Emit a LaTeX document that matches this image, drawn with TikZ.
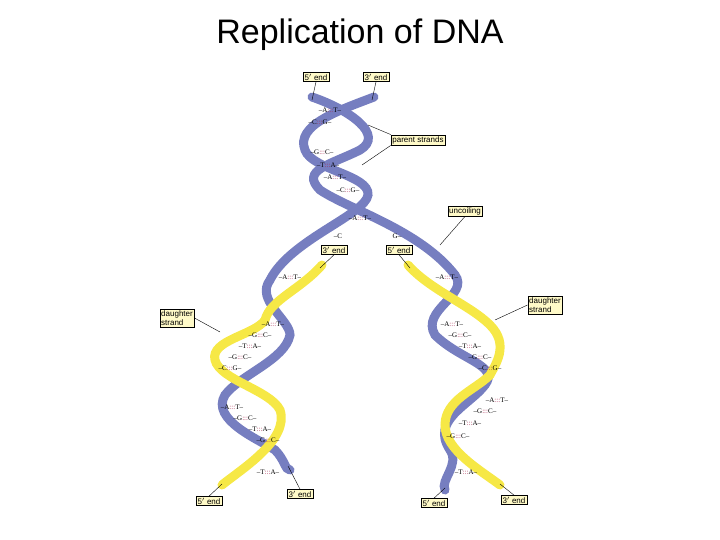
\documentclass[tikz,border=0pt]{standalone}
\usepackage{fontspec}
\setmainfont{Liberation Serif}
\setsansfont{Liberation Sans}
\usetikzlibrary{positioning}
\definecolor{parentblue}{RGB}{118,126,192}
\definecolor{daughteryel}{RGB}{246,232,70}
\definecolor{tagfill}{RGB}{255,250,200}
\definecolor{pairdots}{RGB}{170,40,80}
\newcommand{\bpair}[2]{--#1{\color{pairdots}:::}#2--}
\begin{document}
\begin{tikzpicture}[x=1pt, y=-1pt, every node/.style={scale=1.0}]

	\tikzset{
	tag/.style={draw, fill=tagfill, font=\sffamily\footnotesize, inner sep=1.5pt, align=left},
	parent/.style={draw=parentblue, line width=9pt, line cap=round},
	daughter/.style={draw=daughteryel, line width=9pt, line cap=round},
	bp/.style={font=\scriptsize, inner sep=0pt},
	call/.style={draw, thin}
	}

	\useasboundingbox (0,0) rectangle (720,540);

	% Title
	\node[font=\sffamily\fontsize{34}{36}\selectfont] (title) at (360,35) {Replication of DNA};

	% Strands
	\draw[parent] (312,97) .. controls (350,110) and (385,135) .. (360,150)
	  .. controls (330,165) and (300,170) .. (320,190)
	  .. controls (350,210) and (420,230) .. (455,275)
	  .. controls (470,295) and (420,310) .. (435,335)
	  .. controls (460,360) and (500,365) .. (485,385)
	  .. controls (470,405) and (430,420) .. (450,450)
	  .. controls (460,465) and (440,480) .. (445,490);
	\draw[parent] (374,97) .. controls (340,110) and (295,125) .. (305,150)
	  .. controls (312,170) and (370,175) .. (368,195)
	  .. controls (365,215) and (290,240) .. (270,280)
	  .. controls (255,300) and (290,320) .. (290,335)
	  .. controls (285,360) and (240,375) .. (225,395)
	  .. controls (210,420) and (260,440) .. (275,450)
	  .. controls (285,460) and (285,470) .. (290,470);
	\draw[daughter] (322,265) .. controls (300,290) and (270,300) .. (265,320)
	  .. controls (255,335) and (210,340) .. (215,360)
	  .. controls (220,380) and (270,390) .. (280,410)
	  .. controls (290,440) and (240,470) .. (222,485);
	\draw[daughter] (408,265) .. controls (430,290) and (470,305) .. (490,325)
	  .. controls (510,345) and (495,365) .. (490,375)
	  .. controls (475,390) and (445,400) .. (445,425)
	  .. controls (445,450) and (480,470) .. (500,485);

	% Base pairs
	\foreach \x/\y/\a/\b in {330/110/A/T, 320/122/C/G, 322/152/G/C, 328/165/T/A,
	  335/177/A/T, 348/190/C/G, 360/218/A/T, 290/277/A/T, 447/277/A/T,
	  273/324/A/T, 260/335/G/C, 250/346/T/A, 240/357/G/C, 230/368/C/G,
	  232/407/A/T, 245/418/G/C, 260/429/T/A, 268/440/G/C, 268/472/T/A,
	  452/324/A/T, 460/335/G/C, 470/346/T/A, 480/357/G/C, 490/368/C/G,
	  497/400/A/T, 485/411/G/C, 470/423/T/A, 458/436/G/C, 466/472/T/A}
	  \node[bp] (bp-\x-\y) at (\x,\y) {\bpair{\a}{\b}};
	\node[bp] (openC) at (338,236) {--C};
	\node[bp] (openG) at (397,236) {G--};

	% Labels
	\node[tag] (top5) at (316,77) {5$'$ end};
	\node[tag] (top3) at (376,77) {3$'$ end};
	\node[tag] (parents) at (418,140) {parent strands};
	\node[tag] (uncoil) at (465,211) {uncoiling};
	\node[tag] (mid3) at (334,250) {3$'$ end};
	\node[tag] (mid5) at (399,250) {5$'$ end};
	\node[tag] (dleft) at (177,318) {daughter\\strand};
	\node[tag] (dright) at (545,305) {daughter\\strand};
	\node[tag] (bl5) at (209,501) {5$'$ end};
	\node[tag] (bl3) at (300,494) {3$'$ end};
	\node[tag] (br5) at (434,503) {5$'$ end};
	\node[tag] (br3) at (514,500) {3$'$ end};

	% Callouts
	\coordinate (ptop5) at (312,100);
	\coordinate (ptop3) at (372,100);
	\coordinate (ppar1) at (368,125);
	\coordinate (ppar2) at (362,165);
	\coordinate (punc) at (440,245);
	\coordinate (pmid3) at (320,268);
	\coordinate (pmid5) at (410,268);
	\coordinate (pdl) at (220,332);
	\coordinate (pdr) at (495,320);
	\coordinate (pbl5) at (222,484);
	\coordinate (pbl3) at (288,466);
	\coordinate (pbr5) at (445,488);
	\coordinate (pbr3) at (500,484);
	\draw[call] (top5.south) -- (ptop5);
	\draw[call] (top3.south) -- (ptop3);
	\draw[call] (parents.north west) -- (ppar1);
	\draw[call] (parents.south west) -- (ppar2);
	\draw[call] (uncoil.south) -- (punc);
	\draw[call] (mid3.south) -- (pmid3);
	\draw[call] (mid5.south) -- (pmid5);
	\draw[call] (dleft.east) -- (pdl);
	\draw[call] (dright.west) -- (pdr);
	\draw[call] (bl5.north) -- (pbl5);
	\draw[call] (bl3.north) -- (pbl3);
	\draw[call] (br5.north) -- (pbr5);
	\draw[call] (br3.north) -- (pbr3);

\end{tikzpicture}
\end{document}
